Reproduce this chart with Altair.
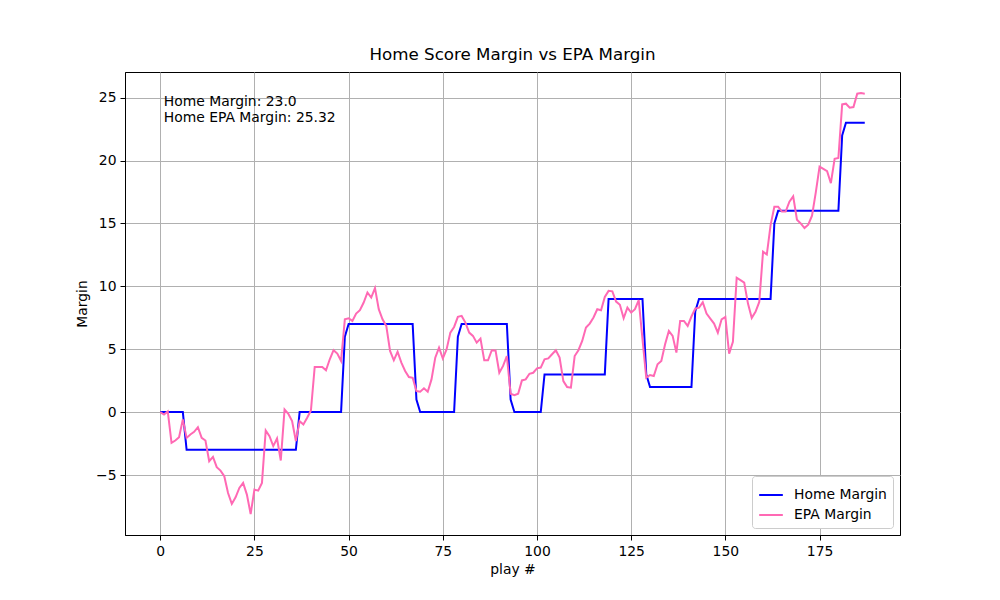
import altair as alt
import pandas as pd

# Home score margin per play (step function)
home_margin = [
    0, 0, 0, 0, 0, 0, 0, -3, -3, -3,
    -3, -3, -3, -3, -3, -3, -3, -3, -3, -3,
    -3, -3, -3, -3, -3, -3, -3, -3, -3, -3,
    -3, -3, -3, -3, -3, -3, -3, 0, 0, 0,
    0, 0, 0, 0, 0, 0, 0, 0, 0, 6,
    7, 7, 7, 7, 7, 7, 7, 7, 7, 7,
    7, 7, 7, 7, 7, 7, 7, 7, 1, 0,
    0, 0, 0, 0, 0, 0, 0, 0, 0, 6,
    7, 7, 7, 7, 7, 7, 7, 7, 7, 7,
    7, 7, 7, 1, 0, 0, 0, 0, 0, 0,
    0, 0, 3, 3, 3, 3, 3, 3, 3, 3,
    3, 3, 3, 3, 3, 3, 3, 3, 3, 9,
    9, 9, 9, 9, 9, 9, 9, 9, 9, 3,
    2, 2, 2, 2, 2, 2, 2, 2, 2, 2,
    2, 2, 8, 9, 9, 9, 9, 9, 9, 9,
    9, 9, 9, 9, 9, 9, 9, 9, 9, 9,
    9, 9, 9, 15, 16, 16, 16, 16, 16, 16,
    16, 16, 16, 16, 16, 16, 16, 16, 16, 16,
    16, 22, 23, 23, 23, 23, 23, 23,
]

# EPA margin per play
epa_margin = [
    0, -0.19, 0.05, -2.45, -2.26, -2.0, -0.58, -2.05, -1.78, -1.57,
    -1.2, -2.05, -2.26, -3.9, -3.56, -4.38, -4.65, -5.1, -6.43, -7.3,
    -6.77, -6.03, -5.63, -6.56, -8.1, -6.16, -6.24, -5.63, -1.46, -1.91,
    -2.7, -2.1, -3.85, 0.21, -0.13, -0.72, -2.3, -0.72, -0.98, -0.45,
    0.13, 3.59, 3.59, 3.59, 3.32, 4.2, 4.92, 4.65, 4.06, 7.38,
    7.46, 7.25, 7.83, 8.1, 8.71, 9.51, 9.11, 9.86, 8.18, 7.38,
    6.85, 4.86, 4.12, 4.8, 3.93, 3.27, 2.79, 2.73, 1.67, 1.62,
    1.89, 1.62, 2.6, 4.33, 5.12, 4.27, 4.99, 6.32, 6.77, 7.57,
    7.65, 7.12, 6.32, 6.06, 5.52, 5.84, 4.12, 4.12, 4.92, 4.9,
    3.13, 3.67, 4.46, 1.46, 1.35, 1.46, 2.52, 2.6, 3.05, 3.13,
    3.48, 3.54, 4.2, 4.27, 4.6, 4.92, 4.33, 2.47, 1.99, 1.94,
    4.46, 4.92, 5.66, 6.72, 7.04, 7.52, 8.18, 8.1, 9.16, 9.64,
    9.6, 8.79, 8.53, 7.46, 8.31, 7.91, 8.18, 8.9, 5.8, 2.73,
    2.95, 2.87, 3.8, 4.06, 5.39, 6.45, 6.06, 4.73, 7.25, 7.25,
    6.85, 7.6, 8.22, 8.3, 8.74, 7.83, 7.44, 7.04, 6.32, 7.38,
    7.57, 4.65, 5.58, 10.68, 10.49, 10.3, 8.63, 7.49, 7.97, 8.76,
    12.75, 12.53, 14.87, 16.33, 16.33, 15.94, 15.94, 16.73, 17.15, 15.3,
    15.0, 14.63, 14.9, 15.62, 17.47, 19.52, 19.34, 19.15, 18.2, 20.14,
    20.21, 24.46, 24.52, 24.2, 24.25, 25.32, 25.36, 25.32,
]

series_names = ["Home Margin", "EPA Margin"]
series_colors = ["#0000ff", "#ff69b4"]
x_ticks = [0, 25, 50, 75, 100, 125, 150, 175]
y_ticks = [-5, 0, 5, 10, 15, 20, 25]

plays = list(range(len(home_margin)))
home_df = pd.DataFrame({"play": plays, "margin": home_margin, "series": series_names[0]})
epa_df = pd.DataFrame({"play": plays, "margin": epa_margin, "series": series_names[1]})

annotation = [f"Home Margin: {float(home_margin[-1]):.1f}\nHome EPA Margin: {epa_margin[-1]:.2f}"]
ann_df = pd.DataFrame({"label": annotation})

FONT = "DejaVu Sans"

x_enc = alt.X(
    "play:Q",
    title="play #",
    scale=alt.Scale(domain=[-9.35, 196.35], nice=False, zero=False),
    axis=alt.Axis(values=x_ticks, format="d"),
)
y_enc = alt.Y(
    "margin:Q",
    title="Margin",
    scale=alt.Scale(domain=[-9.77, 27.04], nice=False, zero=False),
    axis=alt.Axis(values=y_ticks, format="d"),
)
color_enc = alt.Color(
    "series:N",
    scale=alt.Scale(domain=series_names, range=series_colors),
    legend=alt.Legend(
        title=None,
        orient="bottom-right",
        offset=7,
        fillColor="white",
        strokeColor="#cccccc",
        cornerRadius=3,
        padding=6,
        symbolType="stroke",
        symbolStrokeWidth=2,
        symbolSize=560,
        labelFontSize=13.9,
        labelFont=FONT,
        labelColor="black",
        labelOffset=10,
        rowPadding=0,
    ),
)

home_line = alt.Chart(home_df).mark_line(strokeWidth=2).encode(
    x=x_enc, y=y_enc, color=color_enc
)
epa_line = alt.Chart(epa_df).mark_line(strokeWidth=2).encode(
    x=x_enc, y=y_enc, color=color_enc
)
text = alt.Chart(ann_df).mark_text(
    align="left", baseline="top", fontSize=13.9, font=FONT, color="black",
    lineBreak="\n", lineHeight=16.5,
).encode(text="label:N", x=alt.value(38.75), y=alt.value(22.5))

chart = (
    alt.layer(home_line, epa_line, text)
    .properties(
        width=775,
        height=463,
        title=alt.TitleParams(
            "Home Score Margin vs EPA Margin",
            fontSize=16.7, font=FONT, fontWeight="normal", color="black",
            anchor="middle", offset=8,
        ),
        autosize=alt.AutoSizeParams(type="none"),
        padding={"left": 117, "top": 64, "right": 84, "bottom": 57},
    )
    .configure_view(stroke="black", strokeWidth=1)
    .configure_axis(
        labelFont=FONT, titleFont=FONT, labelFontSize=13.9, titleFontSize=13.9,
        labelColor="black", titleColor="black", titleFontWeight="normal",
        grid=True, gridColor="#b0b0b0", gridWidth=1,
        domainColor="black", domainWidth=1,
        tickColor="black", tickSize=5, tickWidth=1, labelPadding=4,
    )
    .configure_axisX(titlePadding=5)
    .configure_axisY(titlePadding=6)
)

chart.save("out.html", embed_options={"renderer": "svg", "actions": False})
